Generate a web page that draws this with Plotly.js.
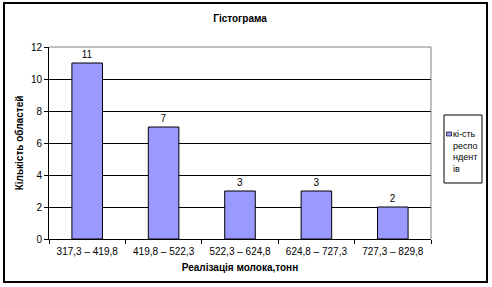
<!DOCTYPE html>
<html>
<head>
<meta charset="utf-8">
<script src="https://cdn.plot.ly/plotly-3.0.1.min.js"></script>
<style>
  html, body { margin: 0; padding: 0; background: #fff; }
  #chart { width: 492px; height: 287px; }
</style>
</head>
<body>
<div id="chart"></div>
<script>
// ---- data ----
const categories = ["317,3 – 419,8", "419,8 – 522,3", "522,3 – 624,8", "624,8 – 727,3", "727,3 – 829,8"];
const counts = [11, 7, 3, 3, 2];
const seriesName = "кі-сть респо ндент ів";
const legendLines = ["кі-сть", "респо", "ндент", "ів"];
const chartTitle = "Гістограма";
const xTitle = "Реалізація молока,тонн";
const yTitle = "Кількість областей";

const FONT = "'Liberation Sans', Arial, sans-serif";
const BAR = "#9999FF";

// plot area in pixels: left 49, right 431, top 47, bottom 239
const L = 49, R = 431, T = 47, B = 239;
const W = R - L, H = B - T;
const px = x => (x - L) / W;
const py = y => (B - y) / H;

const trace = {
  type: "bar",
  x: categories,
  y: counts,
  name: seriesName,
  text: counts.map(String),
  textposition: "outside",
  textfont: { family: FONT, size: 10, color: "#000" },
  cliponaxis: false,
  marker: { color: BAR, line: { color: "#000", width: 1 } },
  hoverinfo: "x+y"
};

const layout = {
  width: 492,
  height: 287,
  margin: { l: L, r: 492 - R, t: T, b: 287 - B, pad: 0 },
  paper_bgcolor: "#fff",
  plot_bgcolor: "#fff",
  showlegend: false,
  bargap: 0.6,
  font: { family: FONT, size: 10, color: "#000" },
  title: {
    text: "<b>" + chartTitle + "</b>",
    font: { family: FONT, size: 10, color: "#000" },
    x: 0.5, xref: "paper", xanchor: "center",
    y: 1 - 18 / 287, yanchor: "middle"
  },
  xaxis: {
    type: "category",
    showline: true, linecolor: "#000", linewidth: 1,
    ticks: "outside", tickson: "boundaries", ticklen: 4, tickcolor: "#000",
    ticklabelstandoff: 3,
    showgrid: false, zeroline: false,
    tickfont: { family: FONT, size: 10, color: "#000" },
    title: { text: "<b>" + xTitle + "</b>", font: { family: FONT, size: 10, color: "#000" }, standoff: 7 }
  },
  yaxis: {
    range: [0, 12], dtick: 2, tick0: 0,
    showline: true, linecolor: "#000", linewidth: 1,
    ticks: "outside", ticklen: 4, tickcolor: "#000",
    showgrid: true, gridcolor: "#000", gridwidth: 1,
    zeroline: false,
    tickfont: { family: FONT, size: 10, color: "#000" },
    title: { text: "<b>" + yTitle + "</b>", font: { family: FONT, size: 10, color: "#000" }, standoff: 5 }
  },
  shapes: [
    // plot-area border (top and right in grey)
    { type: "line", xref: "paper", yref: "paper", x0: 0, x1: 1, y0: 1, y1: 1, line: { color: "#808080", width: 1 }, layer: "above" },
    { type: "line", xref: "paper", yref: "paper", x0: 1, x1: 1, y0: 0, y1: 1, line: { color: "#808080", width: 1 }, layer: "above" },
    // outer chart border
    { type: "rect", xref: "paper", yref: "paper", x0: px(4), x1: px(487), y0: py(282), y1: py(3), line: { color: "#000", width: 2 }, layer: "above" },
    // legend box
    { type: "rect", xref: "paper", yref: "paper", x0: px(444), x1: px(482), y0: py(183), y1: py(115), line: { color: "#000", width: 1 }, fillcolor: "#fff", layer: "above" },
    // legend key
    { type: "rect", xref: "paper", yref: "paper", x0: px(446.5), x1: px(451.5), y0: py(136), y1: py(132), line: { color: "#000", width: 0.7 }, fillcolor: BAR, layer: "above" }
  ],
  annotations: [
    {
      xref: "paper", yref: "paper",
      x: px(451), y: py(127), xanchor: "left", yanchor: "top", align: "left",
      showarrow: false,
      text: legendLines.join("<br>"),
      font: { family: FONT, size: 9, color: "#000" }
    }
  ]
};

Plotly.newPlot("chart", [trace], layout, { displayModeBar: false, staticPlot: true });
</script>
</body>
</html>
